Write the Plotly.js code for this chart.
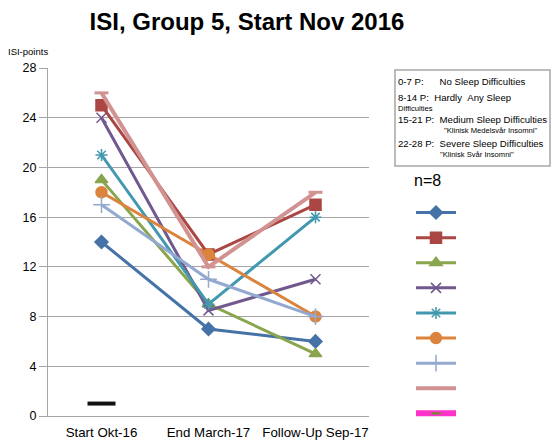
<!DOCTYPE html>
<html>
<head>
<meta charset="utf-8">
<script src="https://cdn.plot.ly/plotly-3.0.1.min.js"></script>
<style>html,body{margin:0;padding:0;background:#fff;}#chart{width:552px;height:444px;}</style>
</head>
<body>
<div id="chart"></div>
<script>
// ---- data ----
const categories = ['Start Okt-16', 'End March-17', 'Follow-Up Sep-17'];
const p1 = [14, 7, 6];
const p2 = [25, 13, 17];
const p3 = [19, 9, 5];
const p4 = [24, 8.5, 11];
const p5 = [21, 9, 16];
const p6 = [18, 13, 8];
const p7 = [17, 11, 8];
const p8 = [26, 12, 18];
const p9 = [1, null, null];
const yTicks = [0, 4, 8, 12, 16, 20, 24, 28];

// ---- geometry helpers (pixel -> paper) ----
const L = 48, R = 369, T = 68, B = 416;
const px = v => (v - L) / (R - L);
const py = v => (B - v) / (B - T);

const FONT = 'Liberation Sans, Arial, sans-serif';

function tr(y, color, symbol, size, extra) {
  const t = {
    x: categories, y: y, type: 'scatter', mode: 'lines+markers', name: ' ',
    line: {color: color, width: 3},
    marker: {symbol: symbol, size: size, color: color, line: {color: color, width: 1.5}},
    cliponaxis: false
  };
  return Object.assign(t, extra || {});
}

const traces = [
  tr(p1, '#4572A7', 'diamond', 10),
  tr(p2, '#AA4643', 'square', 11),
  tr(p3, '#89A54E', 'triangle-up', 11),
  tr(p4, '#71588F', 'x-thin', 10, {marker: {symbol: 'x-thin', size: 10, color: '#71588F', line: {color: '#71588F', width: 1.5}}}),
  tr(p5, '#4198AF', 'asterisk', 10, {marker: {symbol: 'asterisk', size: 10, color: '#4198AF', line: {color: '#4198AF', width: 1.5}}}),
  tr(p6, '#DB843D', 'circle', 11),
  tr(p7, '#93A9CF', 'cross-thin', 12, {marker: {symbol: 'cross-thin', size: 12, color: '#93A9CF', line: {color: '#93A9CF', width: 1.5}}}),
  tr(p8, '#D19392', 'line-ew', 10, {line: {color: '#D19392', width: 4}, marker: {symbol: 'line-ew', size: 10, color: '#D19392', line: {color: '#D19392', width: 3}}}),
  tr(p9, '#FF33CC', 'line-ew', 7, {line: {color: '#FF33CC', width: 6}, marker: {symbol: 'line-ew', size: 7, color: '#6B8E23', line: {color: '#6B8E23', width: 2}}}),
  tr(p9, '#FF33CC', 'line-ew', 20, {mode: 'markers', showlegend: false, marker: {symbol: 'line-ew', size: 20, color: '#000', line: {color: '#111', width: 4}}})
];

const BOXFONT = 'Liberation Sans, Arial, sans-serif';
const ann = (text, x, y, size, anchor, extra) => Object.assign({
  text: text, xref: 'paper', yref: 'paper', x: px(x), y: py(y),
  xanchor: anchor || 'left', yanchor: 'middle', showarrow: false, borderpad: 0,
  font: {family: BOXFONT, size: size, color: '#000'}
}, extra || {});
const sp = n => '\u00a0'.repeat(n);

const layout = {
  width: 552, height: 444,
  margin: {l: L, r: 552 - R, t: T, b: 444 - B, pad: 0},
  paper_bgcolor: '#fff', plot_bgcolor: '#fff',
  font: {family: FONT, color: '#000'},
  title: {text: '<b>ISI, Group 5, Start Nov 2016</b>', x: 247 / 552, xanchor: 'center', xref: 'container',
          y: 1 - 22 / 444, yanchor: 'middle', yref: 'container',
          font: {family: FONT, size: 24, color: '#000'}},
  xaxis: {type: 'category', range: [-0.5, 2.5], showline: true, linecolor: '#A6A6A6', linewidth: 1,
          showgrid: false, zeroline: false, ticks: '', ticklabelstandoff: 4,
          tickfont: {family: FONT, size: 13.3, color: '#000'}},
  yaxis: {range: [0, 28], tickvals: yTicks, ticktext: yTicks.map(String), showline: true, linecolor: '#A6A6A6',
          linewidth: 1, ticks: 'outside', ticklen: 8, tickcolor: '#A6A6A6', showgrid: true,
          gridcolor: '#A6A6A6', gridwidth: 1, zeroline: false, tickfont: {family: FONT, size: 12.5, color: '#000'}},
  showlegend: true,
  legend: {x: px(411), y: py(195), xanchor: 'left', yanchor: 'top', bgcolor: 'rgba(0,0,0,0)',
           font: {size: 17}, tracegroupgap: 0, itemwidth: 40},
  shapes: [
    {type: 'rect', xref: 'paper', yref: 'paper', x0: px(395), x1: px(550), y0: py(166), y1: py(70),
     line: {color: '#A6A6A6', width: 1.5}, fillcolor: 'rgba(0,0,0,0)'}
  ],
  annotations: [
    ann('ISI-points', 7, 51.5, 9.5, 'left', {font: {family: FONT, size: 9.5, color: '#000'}}),
    ann('n=8', 413, 180, 16, 'left', {font: {family: FONT, size: 16, color: '#000'}}),
    ann('0-7 P:' + sp(6) + 'No Sleep Difficulties', 397, 81, 9.6),
    ann('8-14 P:' + sp(2) + 'Hardly' + sp(2) + 'Any Sleep', 397, 97.5, 9.6),
    ann('Difficulties', 397, 108, 7.6),
    ann('15-21 P:' + sp(2) + 'Medium Sleep Difficulties', 397, 119.5, 9.6),
    ann('"Klinisk Medelsvår Insomni"', 538, 130.5, 7.6, 'right'),
    ann('22-28 P:' + sp(2) + 'Severe Sleep Difficulties', 397, 143, 9.6),
    ann('"Klinisk Svår Insomni"', 439, 154, 7.6)
  ]
};

Plotly.newPlot('chart', traces, layout, {staticPlot: true, displayModeBar: false});
</script>
</body>
</html>
